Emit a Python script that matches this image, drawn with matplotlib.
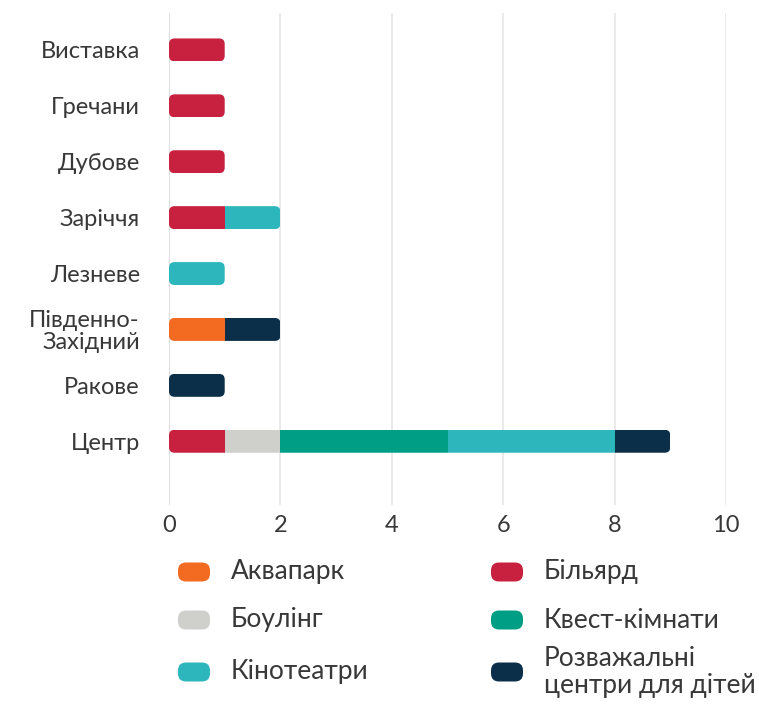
import matplotlib

matplotlib.use("Agg")
import matplotlib.pyplot as plt
from matplotlib.patches import FancyBboxPatch

plt.rcParams["font.family"] = ["Lato", "DejaVu Sans"]

# дані
districts = ["Виставка", "Гречани", "Дубове", "Заріччя", "Лезневе",
             "Південно-\nЗахідний", "Ракове", "Центр"]
series_names = ["Аквапарк", "Більярд", "Боулінг", "Квест-кімнати",
                "Кінотеатри", "Розважальні\nцентри для дітей"]
aquapark = [0, 0, 0, 0, 0, 1, 0, 0]
billiard = [1, 1, 1, 1, 0, 0, 0, 1]
bowling = [0, 0, 0, 0, 0, 0, 0, 1]
quest = [0, 0, 0, 0, 0, 0, 0, 3]
cinema = [0, 0, 0, 1, 1, 0, 0, 3]
kids = [0, 0, 0, 0, 0, 1, 1, 1]
x_ticks = [0, 2, 4, 6, 8, 10]

COLORS = ["#F26B21", "#C8203F", "#CFCFCB", "#009E84", "#2DB7BC", "#0B2F48"]
TEXT = "#383838"
W, H = 759, 704

fig = plt.figure(figsize=(W / 100, H / 100), dpi=100)
ax = fig.add_axes([169 / W, 1 - 505 / H, (726 - 169) / W, (505 - 13) / H])

series = [aquapark, billiard, bowling, quest, cinema, kids]
ypos = list(range(len(districts)))
h = 0.41
left = [0.0] * len(districts)
bars_by_row = [[] for _ in districts]
for vals, color in zip(series, COLORS):
    bars = ax.barh(ypos, vals, height=h, left=left, color=color, linewidth=0, zorder=3)
    for i, (b, v) in enumerate(zip(bars, vals)):
        if v > 0:
            bars_by_row[i].append(b)
    left = [l + v for l, v in zip(left, vals)]

# закруглені кінці для кожного рядка
for i, total in enumerate(left):
    clip = FancyBboxPatch((0, i - h / 2), total, h,
                          boxstyle="round,pad=0,rounding_size=0.1",
                          transform=ax.transData, facecolor="none", edgecolor="none")
    for b in bars_by_row[i]:
        b.set_clip_path(clip)

ax.set_xlim(0, 10)
ax.set_ylim(8.14, -0.66)
ax.set_xticks(x_ticks)
ax.set_yticks(ypos)
ax.set_yticklabels(districts, linespacing=1.05)
ax.tick_params(axis="both", length=0, colors=TEXT, labelsize=17)
ax.tick_params(axis="y", pad=21)
ax.tick_params(axis="x", pad=7)
for s in ax.spines.values():
    s.set_visible(False)
ax.grid(axis="x", color="#E6E6E6", linewidth=1.2, zorder=0)
ax.axvline(0, color="#BDBDBD", linewidth=1.5, zorder=1)

# легенда: дві колонки, закруглені маркери
col_x = [178, 491]
row_y = [572, 620, 672]
for k, (name, color) in enumerate(zip(series_names, COLORS)):
    cx, ry = col_x[k % 2], row_y[k // 2]
    fig.patches.append(FancyBboxPatch(
        (cx / W, 1 - (ry + 9.5) / H), 32 / W, 19 / H,
        boxstyle=f"round,pad=0,rounding_size={8 / W}", mutation_aspect=W / H,
        transform=fig.transFigure, facecolor=color, edgecolor="none"))
    fig.text((cx + 53) / W, 1 - ry / H, name, fontsize=19, color=TEXT,
             va="center", ha="left", linespacing=1.15)

fig.savefig("out.png", dpi=100)
